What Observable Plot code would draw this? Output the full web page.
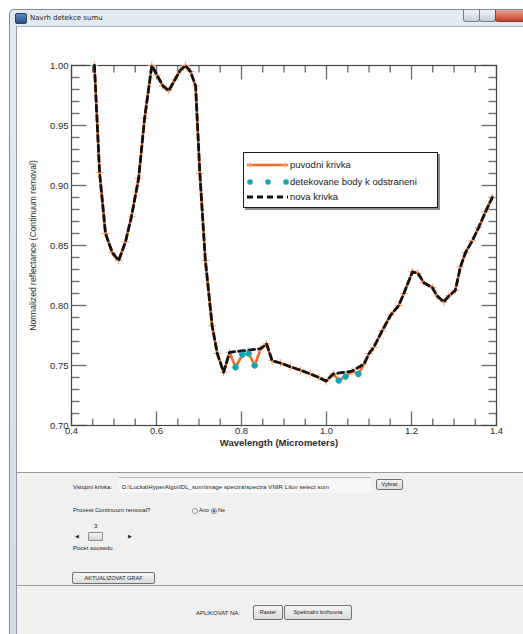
<!DOCTYPE html>
<html>
<head>
<meta charset="utf-8">
<script src="https://cdn.jsdelivr.net/npm/d3@7"></script>
<script src="https://cdn.jsdelivr.net/npm/@observablehq/plot@0.6"></script>
<style>
  html, body { margin: 0; padding: 0; background: #fff; }
  body { width: 523px; height: 634px; overflow: hidden; position: relative; font-family: "Liberation Sans", Arial, sans-serif; color: #222; }
  .abs { position: absolute; }
  .frame { left: 9px; top: 9px; width: 530px; height: 640px; background: linear-gradient(#e4eaf1, #d3dce6); border: 1px solid #7d8a98; border-radius: 5px 5px 0 0; }
  .client { left: 16px; top: 26px; width: 520px; height: 620px; background: #fff; border-left: 1px solid #8f9aa6; border-top: 1px solid #a7b1bc; }
  .title { left: 30px; top: 14px; font-size: 7px; color: #1e1e1e; font-family: "DejaVu Sans", sans-serif; }
  .icon { left: 15px; top: 13px; width: 10px; height: 9px; background: linear-gradient(#5b86c0, #2e4f87); border-radius: 2px; border: 1px solid #2a3f66; }
  .wbtn { top: 10px; height: 11px; border: 1px solid #6f7b88; border-top: none; border-radius: 0 0 3px 3px; background: linear-gradient(#eef2f6, #c6d0db); }
  .panel { left: 17px; width: 520px; background: #f0f0f0; border-top: 1px solid #9a9a9a; }
  .lbl { font-size: 6px; color: #222; white-space: nowrap; }
  .btn { font-size: 5.6px; color: #222; border: 1px solid #707070; border-radius: 2px; background: linear-gradient(#f4f4f4, #dcdcdc); text-align: center; white-space: nowrap; box-sizing: border-box; }
  .radio { width: 4px; height: 4px; border: 1px solid #8a8a8a; border-radius: 50%; background: #fff; }
</style>
</head>
<body>
<div class="abs frame"></div>
<div class="abs icon"></div>
<div class="abs title">Navrh detekce sumu</div>
<div class="abs wbtn" style="left:463px;width:15px;"></div>
<div class="abs wbtn" style="left:479px;width:15px;"></div>
<div class="abs wbtn" style="left:495px;width:30px;background:linear-gradient(#e8a08e,#c4402c);border-color:#8a3a2c;"></div>
<div class="abs client"></div>
<div id="chart" class="abs" style="left:0;top:27px;"></div>

<div class="abs" id="legend" style="left:243px;top:152px;width:193px;height:54px;border:1.3px solid #1a1a1a;background:#fff;box-shadow:2px 2px 0 #8c8c8c;"></div>

<div class="abs panel" style="top:472px;height:113px;"></div>
<div class="abs panel" style="top:585px;height:60px;"></div>

<div class="abs lbl" style="left:73px;top:484px;">Vstupni krivka:</div>
<div class="abs" style="left:119px;top:477px;width:252px;height:15px;background:#f7f7f7;border-top:1px solid #b5b5b5;"></div>
<div class="abs lbl" style="left:122px;top:484px;letter-spacing:0.1px;">D:\Lucka\HyperAlgo\IDL_sum\image spectra\spectra VNIR Lilov select sum</div>
<div class="abs btn" style="left:376px;top:479px;width:27px;height:11px;line-height:9px;">Vybrat</div>

<div class="abs lbl" style="left:73px;top:507px;">Provest Continuum removal?</div>
<div class="abs radio" style="left:192px;top:508px;"></div>
<div class="abs lbl" style="left:199px;top:507px;font-size:5.5px;">Ano</div>
<div class="abs radio" style="left:211px;top:508px;background:radial-gradient(#2c6fbf 45%, #fff 60%);"></div>
<div class="abs lbl" style="left:218px;top:507px;font-size:5.5px;">Ne</div>

<div class="abs lbl" style="left:94px;top:523px;">3</div>
<div class="abs lbl" style="left:75px;top:533px;font-size:5px;">&#9664;</div>
<div class="abs" style="left:88px;top:532px;width:13px;height:7px;border:1px solid #8d8d8d;border-radius:1px;background:linear-gradient(#f5f5f5,#d5d5d5);"></div>
<div class="abs lbl" style="left:128px;top:533px;font-size:5px;">&#9654;</div>
<div class="abs lbl" style="left:73px;top:545px;">Pocet sousedu</div>
<div class="abs btn" style="left:72px;top:572px;width:83px;height:12px;line-height:10px;">AKTUALIZOVAT GRAF</div>

<div class="abs lbl" style="left:196px;top:610px;">APLIKOVAT NA:</div>
<div class="abs btn" style="left:253px;top:605px;width:30px;height:15px;line-height:13px;">Raster</div>
<div class="abs btn" style="left:284px;top:605px;width:68px;height:15px;line-height:13px;">Spektralni knihovna</div>

<script>
// ---- data ----
const wavelength = [0.454, 0.466, 0.480, 0.496, 0.511, 0.527, 0.541, 0.558, 0.572, 0.589,
  0.601, 0.615, 0.629, 0.643, 0.656, 0.668, 0.680, 0.692, 0.702, 0.715,
  0.731, 0.743, 0.758, 0.772, 0.786, 0.802, 0.817, 0.831, 0.845, 0.859,
  0.872, 0.892, 0.915, 0.939, 0.962, 0.982, 0.999, 1.016, 1.029, 1.045,
  1.060, 1.075, 1.088, 1.100, 1.111, 1.131, 1.151, 1.170, 1.182, 1.202,
  1.215, 1.229, 1.249, 1.260, 1.276, 1.288, 1.303, 1.315, 1.327, 1.343,
  1.358, 1.374, 1.390];
const reflectance = [1.000, 0.911, 0.860, 0.844, 0.8375, 0.853, 0.874, 0.906, 0.956, 1.000,
  0.992, 0.983, 0.979, 0.988, 0.996, 1.000, 0.995, 0.983, 0.910, 0.8375,
  0.783, 0.760, 0.7444, 0.761, 0.7486, 0.759, 0.760, 0.750, 0.764, 0.768,
  0.754, 0.752, 0.749, 0.746, 0.743, 0.740, 0.737, 0.743, 0.7375, 0.7408,
  0.7453, 0.743, 0.751, 0.760, 0.765, 0.779, 0.792, 0.800, 0.810, 0.828,
  0.827, 0.819, 0.815, 0.808, 0.803, 0.808, 0.8125, 0.832, 0.844, 0.854,
  0.865, 0.878, 0.890];
const detectedWavelengths = [0.786, 0.802, 0.817, 0.831, 1.029, 1.045, 1.075];

const xMajor = [0.4, 0.6, 0.8, 1.0, 1.2, 1.4];
const xMinor = [0.45, 0.5, 0.55, 0.65, 0.7, 0.75, 0.85, 0.9, 0.95, 1.05, 1.1, 1.15, 1.25, 1.3, 1.35];
const yMajor = [0.70, 0.75, 0.80, 0.85, 0.90, 0.95, 1.00];
const yMinor = [0.71, 0.72, 0.73, 0.74, 0.76, 0.77, 0.78, 0.79, 0.81, 0.82, 0.83, 0.84,
  0.86, 0.87, 0.88, 0.89, 0.91, 0.92, 0.93, 0.94, 0.96, 0.97, 0.98, 0.99];

const legendLabels = ["puvodni krivka", "detekovane body k odstraneni", "nova krivka"];
const xLabel = "Wavelength (Micrometers)";
const yLabel = "Normalized reflectance (Continuum removal)";

// ---- derived tables ----
const original = wavelength.map((w, i) => ({w, r: reflectance[i], det: detectedWavelengths.includes(w)}));
const detected = original.filter(d => d.det);
const cleaned = original.filter(d => !d.det);

const ORANGE = "#f26b2a", MARK = "#f7a273", CYAN = "#13a3b2", TICK = "#6a6a6a";
const PW = 425, PH = 360;
const xDom = [0.4, 1.4], yDom = [0.70, 1.00];
// tick lengths converted from pixels into data units
const tyMaj = 14 * (yDom[1] - yDom[0]) / PH, tyMin = 7 * (yDom[1] - yDom[0]) / PH;
const txMaj = 15 * (xDom[1] - xDom[0]) / PW, txMin = 8 * (xDom[1] - xDom[0]) / PW;

const xTickRows = [
  ...xMajor.map(v => ({v, a: yDom[0], b: yDom[0] + tyMaj})),
  ...xMinor.map(v => ({v, a: yDom[0], b: yDom[0] + tyMin})),
  ...xMajor.map(v => ({v, a: yDom[1], b: yDom[1] - tyMaj})),
  ...xMinor.map(v => ({v, a: yDom[1], b: yDom[1] - tyMin}))
];
const yTickRows = [
  ...yMajor.map(v => ({v, a: xDom[0], b: xDom[0] + txMaj})),
  ...yMinor.map(v => ({v, a: xDom[0], b: xDom[0] + txMin})),
  ...yMajor.map(v => ({v, a: xDom[1], b: xDom[1] - txMaj})),
  ...yMinor.map(v => ({v, a: xDom[1], b: xDom[1] - txMin}))
];

const chart = Plot.plot({
  width: 523, height: 445,
  marginLeft: 71, marginRight: 27, marginTop: 38, marginBottom: 47,
  style: {background: "transparent", fontFamily: "'Liberation Sans', Arial, sans-serif", color: "#2a2a2a"},
  x: {domain: xDom},
  y: {domain: yDom},
  marks: [
    // inward IDL-style ticks on all four sides
    Plot.link(xTickRows, {x1: "v", x2: "v", y1: "a", y2: "b", stroke: TICK, strokeWidth: 1.3}),
    Plot.link(yTickRows, {y1: "v", y2: "v", x1: "a", x2: "b", stroke: TICK, strokeWidth: 1.3}),
    Plot.frame({stroke: "#444", strokeWidth: 1.2}),
    Plot.axisX(xMajor, {tickSize: 0, tickPadding: 2, tickFormat: d3.format(".1f"), fontSize: 9.5, label: null}),
    Plot.axisY(yMajor, {tickSize: 0, tickPadding: 3, tickFormat: d3.format(".2f"), fontSize: 9.5, label: null}),
    Plot.text([xLabel], {frameAnchor: "bottom", dy: 17, dx: -5, textAnchor: "middle", lineAnchor: "middle", fontSize: 9.5, fontWeight: "bold", fill: "#2a2a2a"}),
    Plot.text([yLabel], {frameAnchor: "left", dx: -38, rotate: -90, textAnchor: "middle", lineAnchor: "middle", fontSize: 8.6, fill: "#2a2a2a"}),
    // data
    Plot.line(original, {x: "w", y: "r", stroke: ORANGE, strokeWidth: 2.6}),
    Plot.dot(original, {x: "w", y: "r", symbol: "plus", r: 2.6, stroke: MARK, strokeWidth: 1}),
    Plot.line(cleaned, {x: "w", y: "r", stroke: "#111", strokeWidth: 2.8, strokeDasharray: "6,4"}),
    Plot.dot(detected, {x: "w", y: "r", r: 3.1, fill: CYAN})
  ]
});
document.getElementById("chart").appendChild(chart);

// ---- legend ----
const lg = d3.select("#legend").append("svg").attr("width", 193).attr("height", 54)
  .style("font-family", "'Liberation Sans', Arial, sans-serif").style("font-size", "9.5px");
const rows = [12, 29, 44];
lg.append("line").attr("x1", 3).attr("x2", 44).attr("y1", rows[0]).attr("y2", rows[0]).attr("stroke", ORANGE).attr("stroke-width", 2.4);
[6, 41].forEach(x => {
  lg.append("path").attr("d", `M${x-2.6},${rows[0]}h5.2M${x},${rows[0]-2.6}v5.2`).attr("stroke", MARK).attr("stroke-width", 1);
});
[6, 24, 42].forEach(x => lg.append("circle").attr("cx", x).attr("cy", rows[1]).attr("r", 2.8).attr("fill", CYAN));
lg.append("line").attr("x1", 3).attr("x2", 44).attr("y1", rows[2]).attr("y2", rows[2]).attr("stroke", "#111").attr("stroke-width", 2.8).attr("stroke-dasharray", "6,4");
legendLabels.forEach((t, i) => lg.append("text").attr("x", 46).attr("y", rows[i]).attr("dy", "0.35em").attr("fill", "#1a1a1a").text(t));
</script>
</body>
</html>
